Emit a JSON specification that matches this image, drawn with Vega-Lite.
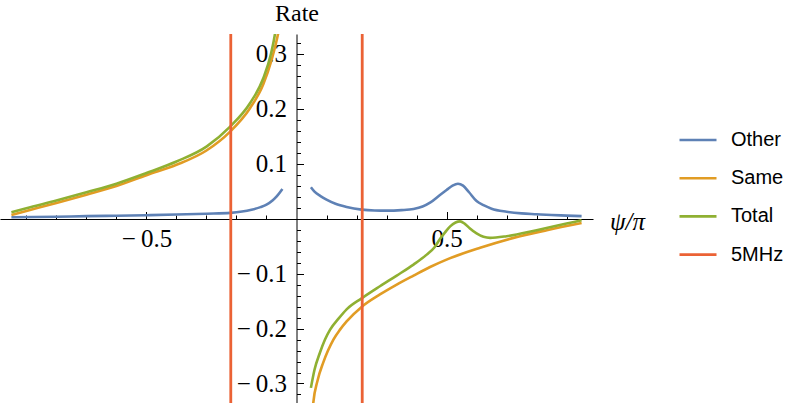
{
  "$schema": "https://vega.github.io/schema/vega-lite/v6.json",
  "width": 593,
  "height": 369,
  "autosize": "none",
  "padding": {"left": 0, "top": 34, "right": 196, "bottom": 0},
  "background": "white",
  "view": {"stroke": null},
  "datasets": {
    "curves": [
      {"s":"Other","b":"L","x":-0.95,"y":0.0025},{"s":"Other","b":"L","x":-0.8,"y":0.0035},{"s":"Other","b":"L","x":-0.7,"y":0.0045},{"s":"Other","b":"L","x":-0.6,"y":0.0052},{"s":"Other","b":"L","x":-0.5,"y":0.0062},{"s":"Other","b":"L","x":-0.4,"y":0.0075},{"s":"Other","b":"L","x":-0.3,"y":0.009},{"s":"Other","b":"L","x":-0.22,"y":0.0105},{"s":"Other","b":"L","x":-0.15,"y":0.016},{"s":"Other","b":"L","x":-0.12,"y":0.021},{"s":"Other","b":"L","x":-0.1,"y":0.0255},{"s":"Other","b":"L","x":-0.08,"y":0.033},{"s":"Other","b":"L","x":-0.066,"y":0.0405},{"s":"Other","b":"L","x":-0.047,"y":0.054},
      {"s":"Other","b":"R","x":0.048,"y":0.057},{"s":"Other","b":"R","x":0.06,"y":0.049},{"s":"Other","b":"R","x":0.08,"y":0.041},{"s":"Other","b":"R","x":0.1,"y":0.0345},{"s":"Other","b":"R","x":0.13,"y":0.027},{"s":"Other","b":"R","x":0.167,"y":0.0212},{"s":"Other","b":"R","x":0.217,"y":0.0164},{"s":"Other","b":"R","x":0.26,"y":0.0148},{"s":"Other","b":"R","x":0.3,"y":0.0145},{"s":"Other","b":"R","x":0.35,"y":0.0155},{"s":"Other","b":"R","x":0.39,"y":0.0176},{"s":"Other","b":"R","x":0.42,"y":0.022},{"s":"Other","b":"R","x":0.445,"y":0.029},{"s":"Other","b":"R","x":0.478,"y":0.043},{"s":"Other","b":"R","x":0.5,"y":0.052},{"s":"Other","b":"R","x":0.52,"y":0.06},{"s":"Other","b":"R","x":0.538,"y":0.0635},{"s":"Other","b":"R","x":0.555,"y":0.06},{"s":"Other","b":"R","x":0.575,"y":0.048},{"s":"Other","b":"R","x":0.6,"y":0.032},{"s":"Other","b":"R","x":0.625,"y":0.024},{"s":"Other","b":"R","x":0.65,"y":0.018},{"s":"Other","b":"R","x":0.7,"y":0.0125},{"s":"Other","b":"R","x":0.75,"y":0.0095},{"s":"Other","b":"R","x":0.8,"y":0.008},{"s":"Other","b":"R","x":0.85,"y":0.0065},{"s":"Other","b":"R","x":0.9,"y":0.0055},{"s":"Other","b":"R","x":0.95,"y":0.0045},
      {"s":"Same","b":"L","x":-0.95,"y":0.0067},{"s":"Same","b":"L","x":-0.9,"y":0.014},{"s":"Same","b":"L","x":-0.8,"y":0.0285},{"s":"Same","b":"L","x":-0.7,"y":0.0436},{"s":"Same","b":"L","x":-0.6,"y":0.0594},{"s":"Same","b":"L","x":-0.5,"y":0.079},{"s":"Same","b":"L","x":-0.4,"y":0.098},{"s":"Same","b":"L","x":-0.3,"y":0.124},{"s":"Same","b":"L","x":-0.222,"y":0.158},{"s":"Same","b":"L","x":-0.155,"y":0.201},{"s":"Same","b":"L","x":-0.111,"y":0.244},{"s":"Same","b":"L","x":-0.083,"y":0.289},{"s":"Same","b":"L","x":-0.068,"y":0.32},{"s":"Same","b":"L","x":-0.058,"y":0.345},
      {"s":"Same","b":"R","x":0.052,"y":-0.36},{"s":"Same","b":"R","x":0.056,"y":-0.335},{"s":"Same","b":"R","x":0.07,"y":-0.295},{"s":"Same","b":"R","x":0.089,"y":-0.262},{"s":"Same","b":"R","x":0.105,"y":-0.24},{"s":"Same","b":"R","x":0.123,"y":-0.22},{"s":"Same","b":"R","x":0.145,"y":-0.202},{"s":"Same","b":"R","x":0.167,"y":-0.187},{"s":"Same","b":"R","x":0.217,"y":-0.1606},{"s":"Same","b":"R","x":0.278,"y":-0.138},{"s":"Same","b":"R","x":0.334,"y":-0.12},{"s":"Same","b":"R","x":0.39,"y":-0.1036},{"s":"Same","b":"R","x":0.445,"y":-0.088},{"s":"Same","b":"R","x":0.5,"y":-0.0745},{"s":"Same","b":"R","x":0.612,"y":-0.053},{"s":"Same","b":"R","x":0.723,"y":-0.035},{"s":"Same","b":"R","x":0.834,"y":-0.021},{"s":"Same","b":"R","x":0.95,"y":-0.008},
      {"s":"Total","b":"L","x":-0.95,"y":0.0115},{"s":"Total","b":"L","x":-0.9,"y":0.019},{"s":"Total","b":"L","x":-0.8,"y":0.033},{"s":"Total","b":"L","x":-0.7,"y":0.048},{"s":"Total","b":"L","x":-0.6,"y":0.0636},{"s":"Total","b":"L","x":-0.5,"y":0.083},{"s":"Total","b":"L","x":-0.4,"y":0.104},{"s":"Total","b":"L","x":-0.3,"y":0.131},{"s":"Total","b":"L","x":-0.222,"y":0.167},{"s":"Total","b":"L","x":-0.155,"y":0.21},{"s":"Total","b":"L","x":-0.111,"y":0.255},{"s":"Total","b":"L","x":-0.085,"y":0.3},{"s":"Total","b":"L","x":-0.072,"y":0.335},{"s":"Total","b":"L","x":-0.068,"y":0.35},
      {"s":"Total","b":"R","x":0.048,"y":-0.308},{"s":"Total","b":"R","x":0.06,"y":-0.275},{"s":"Total","b":"R","x":0.078,"y":-0.244},{"s":"Total","b":"R","x":0.095,"y":-0.22},{"s":"Total","b":"R","x":0.112,"y":-0.202},{"s":"Total","b":"R","x":0.14,"y":-0.182},{"s":"Total","b":"R","x":0.167,"y":-0.165},{"s":"Total","b":"R","x":0.217,"y":-0.145},{"s":"Total","b":"R","x":0.278,"y":-0.123},{"s":"Total","b":"R","x":0.334,"y":-0.1036},{"s":"Total","b":"R","x":0.39,"y":-0.0836},{"s":"Total","b":"R","x":0.434,"y":-0.0655},{"s":"Total","b":"R","x":0.46,"y":-0.052},{"s":"Total","b":"R","x":0.478,"y":-0.037},{"s":"Total","b":"R","x":0.495,"y":-0.025},{"s":"Total","b":"R","x":0.512,"y":-0.014},{"s":"Total","b":"R","x":0.53,"y":-0.007},{"s":"Total","b":"R","x":0.545,"y":-0.005},{"s":"Total","b":"R","x":0.56,"y":-0.009},{"s":"Total","b":"R","x":0.578,"y":-0.018},{"s":"Total","b":"R","x":0.6,"y":-0.027},{"s":"Total","b":"R","x":0.623,"y":-0.033},{"s":"Total","b":"R","x":0.645,"y":-0.035},{"s":"Total","b":"R","x":0.7,"y":-0.032},{"s":"Total","b":"R","x":0.8,"y":-0.021},{"s":"Total","b":"R","x":0.9,"y":-0.009},{"s":"Total","b":"R","x":0.95,"y":-0.003}
    ],
    "markers": [
      {"s":"5MHz","x":-0.219},
      {"s":"5MHz","x":0.219}
    ]
  },
  "encoding": {
    "x": {
      "field": "x", "type": "quantitative",
      "scale": {"domain": [-0.988, 0.988], "nice": false, "zero": false},
      "axis": {
        "orient": "bottom", "offset": -184,
        "values": [-0.9,-0.8,-0.7,-0.6,-0.5,-0.4,-0.3,-0.2,-0.1,0.1,0.2,0.3,0.4,0.5,0.6,0.7,0.8,0.9],
        "labelExpr": "abs(abs(datum.value)-0.5) < 0.001 ? (datum.value < 0 ? '\u2212\u20090.5' : '0.5') : ''",
        "grid": false, "domainColor": "black", "domainWidth": 1,
        "tickColor": "black", "tickWidth": 1,
        "tickSize": {"condition": {"test": "abs(abs(datum.value)-0.5) < 0.001", "value": -7.5}, "value": -4},
        "labelPadding": 15, "labelFlush": false, "labelOverlap": false, "labelBound": false,
        "labelFont": "Liberation Serif", "labelFontSize": 25, "labelColor": "black", "labelBaseline": "top",
        "title": "\u03c8/\u03c0", "titleFont": "Liberation Serif", "titleFontSize": 25, "titleFontStyle": "italic", "titleFontWeight": "normal", "titleColor": "black",
        "titleX": 627, "titleY": 2, "titleAlign": "center", "titleBaseline": "middle", "titleAngle": 0
      }
    },
    "y": {
      "field": "y", "type": "quantitative",
      "scale": {"domain": [-0.3355, 0.336], "nice": false, "zero": false},
      "axis": {
        "orient": "left", "offset": -296.5,
        "values": [-0.32,-0.3,-0.28,-0.26,-0.24,-0.22,-0.2,-0.18,-0.16,-0.14,-0.12,-0.1,-0.08,-0.06,-0.04,-0.02,0.02,0.04,0.06,0.08,0.1,0.12,0.14,0.16,0.18,0.2,0.22,0.24,0.26,0.28,0.3,0.32],
        "labelExpr": "abs(round(datum.value*100)) % 10 == 0 ? (datum.value < 0 ? '\u2212\u2009' + format(abs(datum.value), '.1f') : format(datum.value, '.1f')) : ''",
        "grid": false, "domainColor": "black", "domainWidth": 1,
        "tickColor": "black", "tickWidth": 1,
        "tickSize": {"condition": {"test": "abs(round(datum.value*100)) % 10 == 0", "value": -7}, "value": -4},
        "labelPadding": 17, "labelFlush": false, "labelOverlap": false, "labelBound": false,
        "labelFont": "Liberation Serif", "labelFontSize": 25, "labelColor": "black", "labelBaseline": "middle",
        "title": "Rate", "titleFont": "Liberation Serif", "titleFontSize": 24, "titleFontWeight": "normal", "titleColor": "black",
        "titleX": 0, "titleY": -21, "titleAlign": "center", "titleBaseline": "middle", "titleAngle": 0
      }
    },
    "color": {
      "field": "s", "type": "nominal",
      "scale": {"domain": ["Other","Same","Total","5MHz"], "range": ["#5E81B5","#E19C24","#8FB032","#EB6235"]},
      "legend": {
        "title": null, "orient": "none", "legendX": 678, "legendY": 86,
        "symbolType": "stroke", "symbolSize": 1369, "symbolStrokeWidth": 2.6,
        "labelFont": "Liberation Sans", "labelFontSize": 20, "labelColor": "black", "labelOffset": 13,
        "rowPadding": 8.2, "padding": 0
      }
    }
  },
  "layer": [
    {
      "data": {"name": "curves"},
      "mark": {"type": "line", "clip": true, "strokeWidth": 2.6, "interpolate": "monotone"},
      "encoding": {"detail": {"field": "b"}}
    },
    {
      "data": {"name": "markers"},
      "mark": {"type": "rule", "strokeWidth": 2.8},
      "encoding": {"y": {"value": 0}, "y2": {"value": 369}}
    }
  ]
}
